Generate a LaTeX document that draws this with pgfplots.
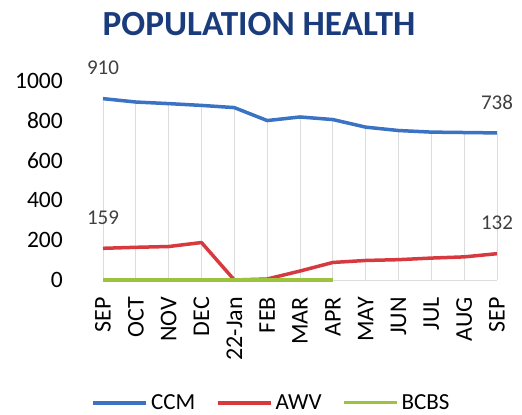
\documentclass[border=0pt]{standalone}
\usepackage{pgfplots}
\pgfplotsset{compat=1.18}
\usepackage{fontspec}
\setmainfont{Carlito}
\definecolor{ccm}{HTML}{3A72C4}
\definecolor{awv}{HTML}{D63A3F}
\definecolor{bcbs}{HTML}{9DC23C}
\definecolor{titleblue}{HTML}{1B3C7C}
\definecolor{lblgray}{HTML}{404040}
\definecolor{gridc}{HTML}{DCDCDC}
\begin{document}
\begin{tikzpicture}
\useasboundingbox (0,0) rectangle (522bp,415bp);
\node[font=\fontsize{35.3bp}{40bp}\selectfont\bfseries, text=titleblue, inner sep=0pt] at (259bp,391bp) {POPULATION HEALTH};
\begin{axis}[
  at={(103bp,135bp)}, anchor=south west,
  scale only axis, width=394bp, height=199.3bp,
  xmin=0, xmax=12, ymin=0, ymax=1000,
  clip=false,
  axis x line*=bottom, axis y line*=left,
  x axis line style={draw=gridc, line width=1bp, -},
  y axis line style={draw=none},
  ytick={0,200,400,600,800,1000},
  xtick={0,...,12},
  xticklabels={SEP,OCT,NOV,DEC,22-Jan,FEB,MAR,APR,MAY,JUN,JUL,AUG,SEP},
  major tick length=0pt,
  tick style={draw=none},
  /pgf/number format/assume math mode=true,
  /pgf/number format/1000 sep={},
  yticklabel style={font=\fontsize{23.5bp}{26bp}\selectfont, anchor=east, inner sep=0pt},
  yticklabel shift=40bp,
  xticklabel style={font=\fontsize{24bp}{27bp}\selectfont, rotate=90, anchor=east, inner sep=0pt},
  xticklabel shift=17bp,
  legend columns=3,
  legend style={at={(0.429,-0.617)}, anchor=center, draw=none, fill=none,
    font=\fontsize{23bp}{26bp}\selectfont, inner sep=0pt,
    nodes={inner sep=3bp},
    /tikz/every even column/.append style={column sep=18bp}},
  legend image code/.code={\draw[#1] (0bp,0bp) -- (53bp,0bp);},
]
% drop lines from CCM points
\addplot[ycomb, draw=gridc, line width=1bp, forget plot] coordinates {
(0,910) (1,893) (2,885) (3,876) (4,865) (5,800) (6,818) (7,805) (8,767) (9,750) (10,742) (11,740) (12,738)};
\addplot[color=ccm, line width=3.5bp, line join=round] coordinates {
(0,910) (1,893) (2,885) (3,876) (4,865) (5,800) (6,818) (7,805) (8,767) (9,750) (10,742) (11,740) (12,738)};
\addlegendentry{CCM}
\addplot[color=awv, line width=3.5bp, line join=round] coordinates {
(0,159) (1,164) (2,168) (3,188) (4,0) (5,5) (6,45) (7,88) (8,98) (9,102) (10,110) (11,116) (12,132)};
\addlegendentry{AWV}
\addplot[color=bcbs, line width=3bp] coordinates {
(0,0) (1,0) (2,0) (3,0) (4,0) (5,0) (6,0) (7,0)};
\addlegendentry{BCBS}
\addplot[draw=none, forget plot, nodes near coords, point meta=explicit symbolic,
  nodes near coords style={anchor=center, yshift=31bp, text=lblgray, font=\fontsize{21bp}{24bp}\selectfont}]
  coordinates {(0,910)[910] (12,738)[738] (0,159)[159] (12,132)[132]};
\end{axis}
\end{tikzpicture}
\end{document}
